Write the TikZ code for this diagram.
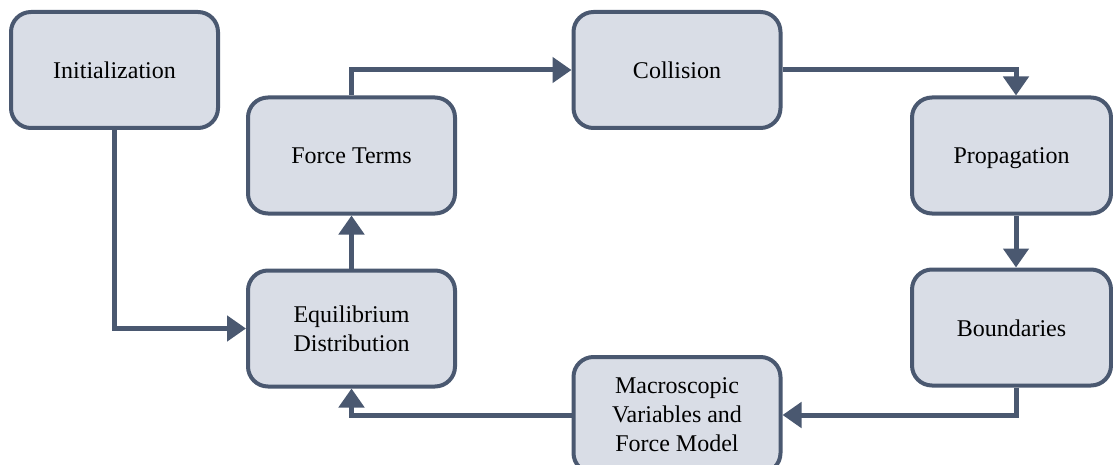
\documentclass[tikz,border=0pt]{standalone}
\usepackage{fontspec}
\setmainfont{Liberation Serif}
\usetikzlibrary{arrows.meta}
\definecolor{edgec}{HTML}{4A5870}
\definecolor{fillc}{HTML}{D9DDE6}
\begin{document}
\begin{tikzpicture}[x=1pt,y=-1pt,
  box/.style={draw=edgec,fill=fillc,line width=4pt,rounded corners=20pt,
    minimum width=207pt,minimum height=116pt,align=center,
    font=\fontsize{24}{29}\selectfont,inner sep=0pt},
  single/.style={text height=17pt,text depth=0pt},
  conn/.style={draw=edgec,line width=5pt,
    -{Triangle[length=19pt,width=25pt]}}]
\useasboundingbox (0,0) rectangle (1113,465);
\node[box,single] (init) at (114.5,70) {Initialization};
\node[box,single] (force) at (351.5,155.5) {Force Terms};
\node[box,single] (coll) at (677,70) {Collision};
\node[box,single,minimum width=199pt] (prop) at (1011.5,155.5) {Propagation};
\node[box,single,minimum width=199pt] (bound) at (1011.5,327.5) {Boundaries};
\node[box] (macro) at (677,415) {Macroscopic\\Variables and\\Force Model};
\node[box] (equi) at (351.5,328.5) {Equilibrium\\Distribution};
\draw[conn] (init.south) |- (equi.west);
\draw[conn] (equi.north) -- (force.south);
\draw[conn] (force.north) |- (coll.west);
\draw[conn] (coll.east) -| ([xshift=4.5pt]prop.north);
\draw[conn] ([xshift=4.5pt]prop.south) -- ([xshift=4.5pt]bound.north);
\draw[conn] ([xshift=4.5pt]bound.south) |- (macro.east);
\draw[conn] (macro.west) -| (equi.south);
\end{tikzpicture}
\end{document}
